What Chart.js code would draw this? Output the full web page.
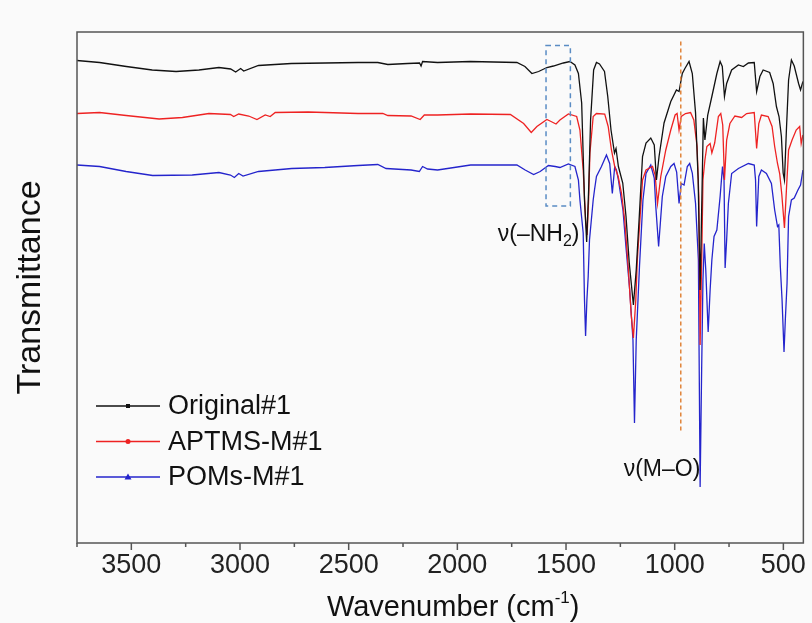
<!DOCTYPE html>
<html>
<head>
<meta charset="utf-8">
<script src="https://cdn.jsdelivr.net/npm/chart.js@4.4.1/dist/chart.umd.min.js"></script>
<style>
  html, body { margin: 0; padding: 0; background: #fafafa; }
  #wrap { width: 812px; height: 623px; }
</style>
</head>
<body>
<div id="wrap"><canvas id="ftirChart" width="812" height="623"></canvas></div>
<script>
// FTIR spectra, wavenumber (cm-1) vs transmittance (a.u., offset)
const originalWn = [3750,3646,3523,3404,3294,3189,3097,3043,3020,2997,2983,2915,2764,2608,2457,2366,2320,2229,2174,2167,2160,2091,1940,1726,1689,1657,1626,1588,1558,1512,1482,1459,1443,1428,1415,1405,1396,1387,1373,1360,1346,1323,1308,1293,1277,1270,1259,1239,1224,1209,1190,1177,1163,1148,1132,1110,1094,1084,1072,1049,1018,992,980,965,953,934,919,904,892,883,875,868,861,848,829,806,791,781,771,761,738,707,684,661,634,623,608,593,563,547,532,520,509,501,495,486,476,463,450,430,421,410];
const originalT = [96.5,96.1,95.3,94.6,94.3,94.6,95.1,94.8,94.2,94.9,94.4,95.5,95.9,96.0,96.1,96.1,95.7,95.9,96.0,95.4,96.3,96.1,96.3,96.1,95.3,93.9,94.3,95.1,95.4,96.0,96.3,95.6,93.9,88.0,68.6,60.2,70.6,84.6,94.6,96.1,95.8,94.3,89.3,82.6,78.0,78.9,75.3,72.0,65.3,56.0,47.6,54.6,65.3,77.3,80.0,81.0,79.6,72.6,77.3,84.0,88.3,90.6,90.3,93.9,94.9,96.3,93.9,86.0,72.6,50.6,68.6,85.0,80.6,85.6,89.3,93.9,96.3,95.3,89.3,91.9,94.6,95.6,95.3,96.0,96.1,90.3,93.3,94.6,94.1,91.9,87.3,85.3,81.3,74.0,72.6,82.6,92.6,96.6,95.4,91.9,90.6,92.3];

const aptmsWn = [3750,3646,3524,3372,3265,3143,3044,3029,3006,2960,2922,2884,2861,2838,2686,2457,2343,2320,2213,2171,2152,2091,1939,1756,1695,1660,1634,1588,1569,1546,1528,1489,1451,1436,1421,1410,1403,1396,1390,1375,1360,1322,1306,1291,1276,1260,1245,1230,1213,1200,1190,1179,1172,1163,1148,1132,1102,1090,1079,1064,1041,1018,998,989,980,970,950,927,912,897,889,883,875,870,861,852,837,829,816,799,788,779,771,761,746,723,692,669,634,623,613,601,570,552,540,527,517,507,495,486,476,460,441,425,418,410];
const aptmsT = [85.9,86.1,85.5,84.8,85.1,85.9,85.7,85.3,85.8,85.4,84.7,85.6,85.3,86.1,86.2,85.9,85.9,85.5,85.4,84.7,85.6,85.6,85.8,85.7,83.9,82.1,83.3,84.7,84.3,83.8,84.6,85.8,85.3,82.6,74.6,64.6,61.6,68.6,78.0,85.3,85.9,85.8,83.3,78.6,75.3,73.3,70.0,64.6,54.6,45.6,41.0,48.6,56.6,62.6,72.6,74.6,75.3,73.6,67.9,73.3,78.6,82.6,85.6,85.9,82.6,85.3,85.9,86.1,84.6,79.3,69.3,39.6,58.6,72.6,76.6,79.3,79.9,78.0,80.0,85.3,85.9,83.6,72.6,80.6,83.9,85.4,85.1,85.9,86.1,78.9,83.9,85.6,85.3,83.3,79.3,75.9,73.9,69.6,63.0,70.6,78.6,80.6,82.6,83.3,79.9,81.6];

const pomsWn = [3750,3646,3524,3402,3220,3097,3044,3026,3006,2986,2915,2762,2610,2457,2366,2328,2213,2175,2160,2137,2091,1939,1726,1688,1649,1619,1581,1550,1528,1489,1459,1443,1436,1421,1415,1410,1404,1398,1392,1375,1369,1360,1337,1314,1299,1287,1276,1268,1259,1245,1238,1223,1207,1192,1185,1177,1162,1146,1132,1110,1094,1087,1074,1065,1057,1041,1018,1003,991,980,970,957,942,931,919,904,891,883,876,870,864,857,846,837,829,819,806,791,780,773,768,761,753,738,707,661,634,628,623,613,601,578,555,540,527,521,514,506,497,491,483,476,463,450,433,421,410];
const pomsT = [75.6,75.3,74.3,73.5,73.6,74.1,73.6,73.1,73.9,73.4,74.3,74.9,75.1,75.5,75.7,74.9,74.6,74.3,75.3,74.8,74.6,75.6,75.6,74.6,73.7,74.3,75.5,75.3,75.1,75.8,75.3,72.6,68.6,62.0,48.6,41.4,48.6,53.3,60.6,68.6,70.6,73.3,75.3,77.6,75.9,69.9,75.3,74.6,72.6,68.6,66.6,58.6,50.6,40.6,24.0,40.6,55.3,68.6,73.9,75.6,73.0,67.3,59.3,64.6,69.3,73.3,75.3,75.9,74.2,67.9,71.9,71.6,75.3,75.9,74.0,67.9,56.6,11.2,34.6,52.6,59.9,54.6,42.2,50.6,56.6,61.3,62.6,69.3,75.3,72.6,55.0,60.6,67.9,73.9,74.9,75.9,75.6,72.6,63.3,73.3,74.6,73.9,71.9,66.6,63.3,63.6,55.3,48.6,38.2,44.6,52.0,65.3,68.6,69.0,70.6,71.6,74.6];

const seriesNames = ["Original#1", "APTMS-M#1", "POMs-M#1"];
const majorTicks = [3500, 3000, 2500, 2000, 1500, 1000, 500];
const minorTicks = [3750, 3250, 2750, 2250, 1750, 1250, 750];

// annotations (data units)
const nh2Box = { from: 1592, to: 1480, top: 99.5, bottom: 67.4 };
const moLine = { wn: 972, top: 100.3, bottom: 22 };
const nh2Label = { wn: 1438, t: 62 };
const moLabel = { wn: 882, t: 15 };

const FONT = "'Liberation Sans', Arial, Helvetica, sans-serif";

function pts(wn, t) { return wn.map((w, i) => ({ x: w, y: t[i] })); }

const decor = {
  id: 'decor',
  beforeDraw(chart) {
    const c = chart.ctx;
    c.save();
    c.fillStyle = '#fafafa';
    c.fillRect(0, 0, chart.width, chart.height);
    c.restore();
  },
  afterDraw(chart) {
    const { ctx: c, chartArea: a, scales: { x, y } } = chart;
    c.save();

    // frame + x tick marks
    c.strokeStyle = '#555';
    c.lineWidth = 1.5;
    c.strokeRect(a.left, a.top, a.right - a.left, a.bottom - a.top);
    x.ticks.forEach(t => {
      const px = x.getPixelForValue(t.value);
      const len = majorTicks.includes(t.value) ? 7 : 4;
      c.beginPath();
      c.moveTo(px, a.bottom);
      c.lineTo(px, a.bottom + len);
      c.stroke();
    });

    // dashed box around the NH2 region
    c.setLineDash([5, 4]);
    c.strokeStyle = '#5a8cc4';
    c.lineWidth = 1.5;
    const bx1 = x.getPixelForValue(nh2Box.from), bx2 = x.getPixelForValue(nh2Box.to);
    const by1 = y.getPixelForValue(nh2Box.top), by2 = y.getPixelForValue(nh2Box.bottom);
    c.strokeRect(bx1, by1, bx2 - bx1, by2 - by1);

    // orange dashed line for M-O
    c.setLineDash([4, 3]);
    c.strokeStyle = '#e0843a';
    const lx = x.getPixelForValue(moLine.wn);
    c.beginPath();
    c.moveTo(lx, y.getPixelForValue(moLine.top));
    c.lineTo(lx, y.getPixelForValue(moLine.bottom));
    c.stroke();
    c.setLineDash([]);

    // peak labels
    c.fillStyle = '#111';
    c.textBaseline = 'alphabetic';
    // v(-NH2)
    let rx = x.getPixelForValue(nh2Label.wn), ry = y.getPixelForValue(nh2Label.t) + 8;
    c.font = `23px ${FONT}`;
    const close = ')';
    const sub = '2';
    const main = 'ν(–NH';
    const wClose = c.measureText(close).width;
    c.font = `16px ${FONT}`;
    const wSub = c.measureText(sub).width;
    c.font = `23px ${FONT}`;
    const wMain = c.measureText(main).width;
    let sx = rx - wClose - wSub - wMain;
    c.textAlign = 'left';
    c.fillText(main, sx, ry);
    c.font = `16px ${FONT}`;
    c.fillText(sub, sx + wMain, ry + 5);
    c.font = `23px ${FONT}`;
    c.fillText(close, sx + wMain + wSub, ry);
    // v(M-O)
    c.textAlign = 'right';
    c.fillText('ν(M–O)', x.getPixelForValue(moLabel.wn), y.getPixelForValue(moLabel.t) + 8);

    // legend
    chart.data.datasets.forEach((ds, i) => {
      const ly = a.top + 374 + i * 35.5;
      const l0 = a.left + 19, l1 = a.left + 83, mx = a.left + 51;
      c.strokeStyle = ds.borderColor;
      c.fillStyle = ds.borderColor;
      c.lineWidth = 1.3;
      c.beginPath();
      c.moveTo(l0, ly);
      c.lineTo(l1, ly);
      c.stroke();
      if (ds.marker === 'triangle') {
        c.beginPath();
        c.moveTo(mx, ly - 3.5);
        c.lineTo(mx + 3.5, ly + 2.5);
        c.lineTo(mx - 3.5, ly + 2.5);
        c.closePath();
        c.fill();
      } else if (ds.marker === 'circle') {
        c.beginPath();
        c.arc(mx, ly, 2.5, 0, Math.PI * 2);
        c.fill();
      } else {
        c.fillRect(mx - 2, ly - 2, 4, 4);
      }
      c.fillStyle = '#111';
      c.font = `27px ${FONT}`;
      c.textAlign = 'left';
      c.textBaseline = 'middle';
      c.fillText(ds.label, a.left + 91, ly + 1);
    });

    // x axis title with superscript
    c.textBaseline = 'alphabetic';
    c.textAlign = 'left';
    const t1 = 'Wavenumber (cm', t2 = '-1', t3 = ')';
    c.font = `29px ${FONT}`;
    const w1 = c.measureText(t1).width, w3 = c.measureText(t3).width;
    c.font = `17px ${FONT}`;
    const w2 = c.measureText(t2).width;
    const total = w1 + w2 + w3;
    const cx = (a.left + a.right) / 2 + 13;
    const by = chart.height - 7;
    let tx = cx - total / 2;
    c.fillStyle = '#111';
    c.font = `29px ${FONT}`;
    c.fillText(t1, tx, by);
    c.font = `17px ${FONT}`;
    c.fillText(t2, tx + w1, by - 13);
    c.font = `29px ${FONT}`;
    c.fillText(t3, tx + w1 + w2, by);

    c.restore();
  }
};

new Chart(document.getElementById('ftirChart'), {
  type: 'line',
  data: {
    datasets: [
      { label: seriesNames[0], data: pts(originalWn, originalT), borderColor: '#111111', marker: 'rect' },
      { label: seriesNames[1], data: pts(aptmsWn, aptmsT), borderColor: '#ee2222', marker: 'circle' },
      { label: seriesNames[2], data: pts(pomsWn, pomsT), borderColor: '#2424cc', marker: 'triangle' }
    ]
  },
  options: {
    responsive: false,
    animation: false,
    devicePixelRatio: 1,
    layout: { padding: { top: 32, right: 4, left: 0, bottom: 0 } },
    elements: {
      point: { radius: 0 },
      line: { borderWidth: 1.3, tension: 0 }
    },
    plugins: {
      legend: { display: false },
      tooltip: { enabled: false }
    },
    scales: {
      x: {
        type: 'linear',
        reverse: true,
        min: 408,
        max: 3750,
        afterBuildTicks: s => {
          s.ticks = majorTicks.concat(minorTicks).sort((p, q) => q - p).map(v => ({ value: v }));
        },
        afterFit: s => { s.height = 80; },
        grid: { display: false, drawTicks: false },
        border: { display: false },
        ticks: {
          autoSkip: false,
          maxRotation: 0,
          padding: 6,
          color: '#222',
          font: { family: FONT, size: 27 },
          callback: v => majorTicks.includes(v) ? String(v) : ''
        }
      },
      y: {
        min: 0,
        max: 102.2,
        afterFit: s => { s.width = 77; },
        grid: { display: false, drawTicks: false },
        border: { display: false },
        ticks: { display: false },
        title: {
          display: true,
          text: 'Transmittance',
          color: '#111',
          font: { family: FONT, size: 34 },
          padding: { top: 10 }
        }
      }
    }
  },
  plugins: [decor]
});
</script>
</body>
</html>
